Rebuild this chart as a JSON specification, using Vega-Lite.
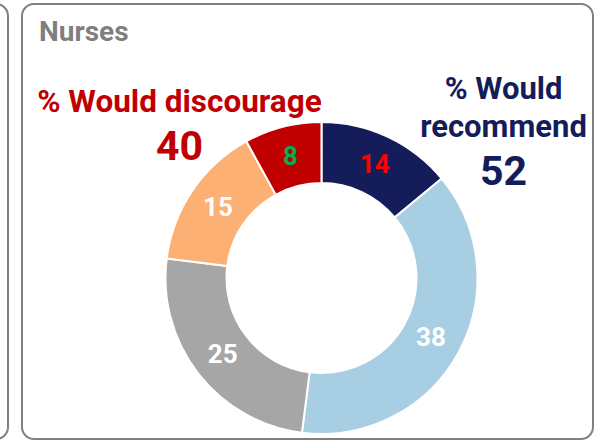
{
  "$schema": "https://vega.github.io/schema/vega-lite/v6.json",
  "width": 571,
  "height": 435,
  "autosize": {"type": "none"},
  "padding": {"left": 22, "right": 7, "top": 4, "bottom": 1},
  "background": "white",
  "config": {
    "view": {"stroke": "#808080", "strokeWidth": 2, "cornerRadius": 12},
    "axis": {"disable": true},
    "text": {"font": "Roboto", "fontWeight": "bold"}
  },
  "datasets": {
    "segments": [
      {"answer": "Strongly recommend", "pct": 14, "rank": 1},
      {"answer": "Recommend", "pct": 38, "rank": 2},
      {"answer": "Neutral", "pct": 25, "rank": 3},
      {"answer": "Discourage", "pct": 15, "rank": 4},
      {"answer": "Strongly discourage", "pct": 8, "rank": 5}
    ],
    "totals": [
      {"group": "discourage", "line1": "% Would discourage", "line2": "", "total": 40},
      {"group": "recommend", "line1": "% Would", "line2": "recommend", "total": 52}
    ]
  },
  "layer": [
    {
      "data": {"values": [{"panel": "previous"}]},
      "mark": {"type": "rect", "fill": null, "stroke": "#808080", "strokeWidth": 2, "cornerRadius": 12},
      "encoding": {
        "x": {"datum": -30, "type": "quantitative", "scale": {"domain": [0, 100], "nice": false, "zero": false}},
        "x2": {"datum": -2.45},
        "y": {"datum": 0, "type": "quantitative", "scale": {"domain": [0, 100], "nice": false, "zero": false, "reverse": true}},
        "y2": {"datum": 100}
      }
    },
    {
      "data": {"values": [{"title": "Nurses"}]},
      "mark": {"type": "text", "align": "left", "baseline": "alphabetic", "fontSize": 28, "color": "#7f7f7f"},
      "encoding": {
        "x": {"datum": 2.98, "type": "quantitative"},
        "y": {"datum": 8.51, "type": "quantitative"},
        "text": {"field": "title"}
      }
    },
    {
      "data": {"name": "segments"},
      "mark": {"type": "arc", "outerRadius": 156, "innerRadius": 95, "stroke": "white", "strokeWidth": 2},
      "encoding": {
        "x": {"datum": 52.45, "type": "quantitative"},
        "y": {"datum": 62.99, "type": "quantitative"},
        "theta": {"field": "pct", "type": "quantitative", "stack": true},
        "order": {"field": "rank"},
        "color": {
          "field": "answer",
          "type": "nominal",
          "legend": null,
          "scale": {
            "domain": ["Strongly recommend", "Recommend", "Neutral", "Discourage", "Strongly discourage"],
            "range": ["#141d5a", "#a7cee3", "#a6a6a6", "#fdb073", "#c00000"]
          }
        }
      }
    },
    {
      "data": {"name": "segments"},
      "mark": {"type": "text", "radius": 125, "fontSize": 26, "baseline": "middle", "align": "center"},
      "encoding": {
        "x": {"datum": 52.45, "type": "quantitative"},
        "y": {"datum": 62.99, "type": "quantitative"},
        "theta": {"field": "pct", "type": "quantitative", "stack": true},
        "order": {"field": "rank"},
        "text": {"field": "pct"},
        "color": {
          "condition": [
            {"test": "datum.rank === 1", "value": "#ff0000"},
            {"test": "datum.rank === 5", "value": "#00b050"}
          ],
          "value": "white"
        }
      }
    },
    {
      "data": {"name": "totals"},
      "transform": [{"filter": "datum.group === 'discourage'"}],
      "layer": [
        {
          "mark": {"type": "text", "fontSize": 31.5, "color": "#c00000", "baseline": "alphabetic"},
          "encoding": {
            "x": {"datum": 27.58, "type": "quantitative"},
            "y": {"datum": 24.83, "type": "quantitative"},
            "text": {"field": "line1"}
          }
        },
        {
          "mark": {"type": "text", "fontSize": 41, "color": "#c00000", "baseline": "alphabetic"},
          "encoding": {
            "x": {"datum": 27.58, "type": "quantitative"},
            "y": {"datum": 35.86, "type": "quantitative"},
            "text": {"field": "total"}
          }
        }
      ]
    },
    {
      "data": {"name": "totals"},
      "transform": [{"filter": "datum.group === 'recommend'"}],
      "layer": [
        {
          "mark": {"type": "text", "fontSize": 31, "color": "#141d5a", "baseline": "alphabetic"},
          "encoding": {
            "x": {"datum": 84.33, "type": "quantitative"},
            "y": {"datum": 21.84, "type": "quantitative"},
            "text": {"field": "line1"}
          }
        },
        {
          "mark": {"type": "text", "fontSize": 31, "color": "#141d5a", "baseline": "alphabetic"},
          "encoding": {
            "x": {"datum": 84.33, "type": "quantitative"},
            "y": {"datum": 30.57, "type": "quantitative"},
            "text": {"field": "line2"}
          }
        },
        {
          "mark": {"type": "text", "fontSize": 41, "color": "#141d5a", "baseline": "alphabetic"},
          "encoding": {
            "x": {"datum": 84.33, "type": "quantitative"},
            "y": {"datum": 41.61, "type": "quantitative"},
            "text": {"field": "total"}
          }
        }
      ]
    }
  ]
}
